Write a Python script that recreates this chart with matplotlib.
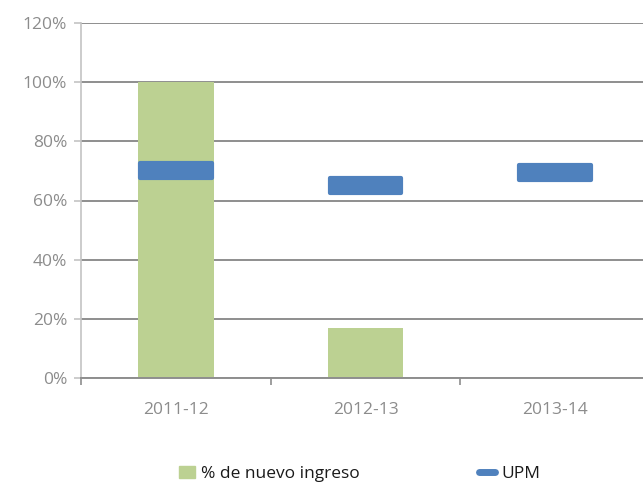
import matplotlib.pyplot as plt
from matplotlib.lines import Line2D
from matplotlib.patches import Patch
import numpy as np

categories = ['2011-12', '2012-13', '2013-14']
nuevo_ingreso = [100, 17, 0]
upm = [70, 65, 69.5]

green = '#bcd192'
blue = '#4f81bd'
grey_text = '#8c8c8c'
grid_col = '#8e8e8e'

plt.rcParams['font.family'] = ['Open Sans', 'DejaVu Sans']

fig = plt.figure(figsize=(6.43, 4.87), dpi=100)
ax = fig.add_axes([81 / 643, 1 - 378 / 487, 569 / 643, 355 / 487])

x = np.arange(len(categories))
ax.bar(x, nuevo_ingreso, width=0.4, color=green, zorder=2)

# UPM dashes: short bars with a round-joined edge for soft corners
h = 6.4 - 1.3
ax.bar(x, [h] * len(upm), bottom=[v - h / 2 for v in upm], width=0.4 - 0.022,
       color=blue, edgecolor=blue, linewidth=3, joinstyle='round', zorder=3)

ax.set_xlim(-0.5, 2.5)
ax.set_ylim(0, 120)
ax.set_yticks(range(0, 121, 20))
ax.set_yticklabels([f'{v}%' for v in range(0, 121, 20)])
ax.set_xticks(x)
ax.set_xticklabels(categories)
ax.set_xticks([-0.5, 0.5, 1.5, 2.5], minor=True)

ax.yaxis.grid(True, color=grid_col, linewidth=1.4, zorder=1)
ax.set_axisbelow(True)
for s in ['top', 'right']:
    ax.spines[s].set_visible(False)
ax.spines['left'].set_color('#c4c4c4')
ax.spines['left'].set_linewidth(1.2)
ax.spines['bottom'].set_color(grid_col)
ax.spines['bottom'].set_linewidth(1.4)

ax.tick_params(axis='y', length=5, width=1.2, color='#c4c4c4', labelsize=12.5,
               labelcolor=grey_text, pad=5)
ax.tick_params(axis='x', which='major', length=0, labelsize=12.5,
               labelcolor=grey_text, pad=17)
ax.tick_params(axis='x', which='minor', length=5, width=1.2, color=grid_col)

handles = [Patch(color=green, label='% de nuevo ingreso'),
           Line2D([], [], color=blue, linewidth=5, solid_capstyle='round', label='UPM')]
fig.legend(handles=handles, loc='center left', bbox_to_anchor=(163 / 643, 1 - 474 / 487),
           ncol=2, frameon=False, fontsize=12.5, columnspacing=6.85,
           handlelength=0.95, handletextpad=0.35, labelcolor='#1a1a1a')

fig.savefig('out.png', dpi=100)
